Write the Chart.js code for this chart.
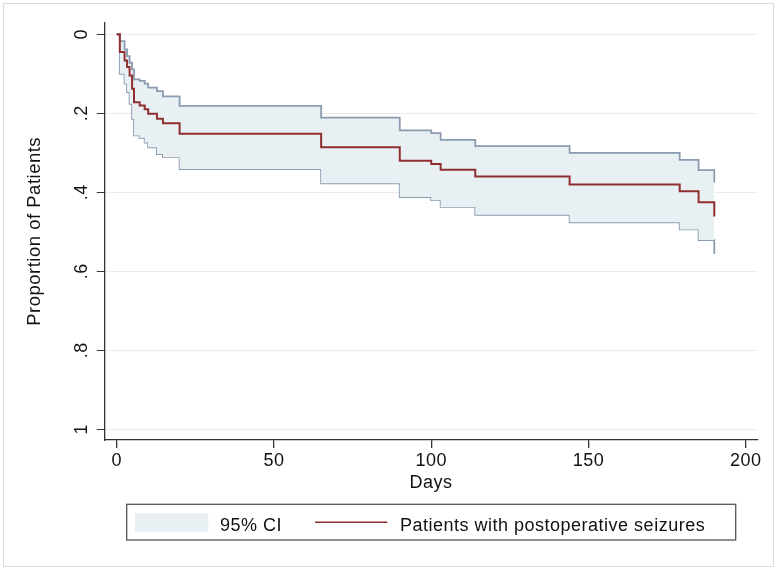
<!DOCTYPE html>
<html>
<head>
<meta charset="utf-8">
<title>Proportion of Patients</title>
<script src="https://cdn.jsdelivr.net/npm/chart.js@4.4.1/dist/chart.umd.min.js"></script>
<style>
  html, body { margin: 0; padding: 0; background: #fff; }
  #wrap { width: 780px; height: 570px; position: relative; }
</style>
</head>
<body>
<div id="wrap"><canvas id="km-chart"></canvas></div>
<script>
// Kaplan-Meier style curve, y axis reversed (0 at top)

const days       = [0, 1, 2.5, 3.3, 4.1, 4.9, 5.5, 7.3, 8.9, 10, 12.8, 14.7, 20, 65, 90, 100, 103, 114, 144, 179, 185, 190];
const proportion = [0, 0.045, 0.066, 0.083, 0.104, 0.138, 0.172, 0.180, 0.190, 0.201, 0.214, 0.225, 0.252, 0.286, 0.320, 0.328, 0.343, 0.360, 0.380, 0.397, 0.425, 0.461];
const ciLow      = [0, 0.017, 0.038, 0.055, 0.072, 0.089, 0.114, 0.118, 0.125, 0.135, 0.144, 0.157, 0.181, 0.211, 0.243, 0.250, 0.267, 0.283, 0.300, 0.318, 0.344, 0.375];
const ciHigh     = [0, 0.100, 0.125, 0.146, 0.176, 0.214, 0.256, 0.262, 0.274, 0.286, 0.303, 0.311, 0.341, 0.377, 0.412, 0.420, 0.437, 0.457, 0.476, 0.494, 0.521, 0.556];

const xTicks      = [0, 50, 100, 150, 200];
const yTicks      = [0, 0.2, 0.4, 0.6, 0.8, 1];
const yTickLabels = ["0", ".2", ".4", ".6", ".8", "1"];

const curveLabel = "Patients with postoperative seizures";
const ciLabel    = "95% CI";

const RED  = "#8f2f2f";
const CI   = "#8b9cb1";
const FILL = "#e9f0f3";
const INK  = "#111";
const FONT = "'Liberation Sans', Arial, Helvetica, sans-serif";

function pts(ys) {
  return days.map((d, i) => ({ x: d, y: ys[i] }));
}

// Stata text runs a bit wider than Arial
const spacing = {
  id: "spacing",
  beforeLayout(chart) { chart.ctx.letterSpacing = "0.5px"; },
  beforeDraw(chart) {
    const ctx = chart.ctx;
    ctx.letterSpacing = "0.5px";
    ctx.save();
    ctx.strokeStyle = "#dcdcdc";
    ctx.lineWidth = 1;
    ctx.strokeRect(3.5, 3.5, 770, 563);
    ctx.restore();
  }
};

// rotated y tick labels
const yLabels = {
  id: "yLabels",
  afterDraw(chart) {
    const ctx = chart.ctx;
    const y = chart.scales.y;
    ctx.save();
    ctx.font = "18px " + FONT;
    ctx.fillStyle = INK;
    ctx.textAlign = "center";
    ctx.textBaseline = "middle";
    yTicks.forEach((v, i) => {
      const py = y.getPixelForValue(v);
      ctx.save();
      ctx.translate(82, py);
      ctx.rotate(-Math.PI / 2);
      ctx.fillText(yTickLabels[i], 0, 0);
      ctx.restore();
    });
    ctx.restore();
  }
};

// boxed legend under the plot
const boxLegend = {
  id: "boxLegend",
  afterDraw(chart) {
    const ctx = chart.ctx;
    const ds = chart.data.datasets;
    ctx.save();
    ctx.strokeStyle = "#555";
    ctx.lineWidth = 1.3;
    ctx.strokeRect(126.7, 504.3, 609, 35.7);

    ctx.fillStyle = ds[1].backgroundColor;
    ctx.fillRect(135, 513.3, 73.3, 18.4);

    ctx.strokeStyle = ds[0].borderColor;
    ctx.lineWidth = 1.6;
    ctx.beginPath();
    ctx.moveTo(315, 522.3);
    ctx.lineTo(387.3, 522.3);
    ctx.stroke();

    ctx.font = "18px " + FONT;
    ctx.fillStyle = INK;
    ctx.textBaseline = "alphabetic";
    ctx.fillText(ds[1].label, 220, 531);
    ctx.fillText(ds[0].label, 400, 531);
    ctx.restore();
  }
};

new Chart(document.getElementById("km-chart"), {
  type: "line",
  data: {
    datasets: [
      {
        label: curveLabel,
        data: pts(proportion),
        borderColor: RED,
        borderWidth: 2,
        stepped: "before",
        pointRadius: 0,
        fill: false
      },
      {
        label: ciLabel,
        data: pts(ciLow),
        borderColor: CI,
        borderWidth: 1.8,
        backgroundColor: FILL,
        stepped: "before",
        pointRadius: 0,
        fill: "+1"
      },
      {
        label: ciLabel + " (upper)",
        data: pts(ciHigh),
        borderColor: CI,
        borderWidth: 1.8,
        stepped: "before",
        pointRadius: 0,
        fill: false
      }
    ]
  },
  options: {
    responsive: true,
    maintainAspectRatio: false,
    animation: false,
    devicePixelRatio: 1,
    font: { family: FONT },
    layout: { padding: { left: 0, top: 22.7, right: 22.3, bottom: 70 } },
    plugins: {
      legend: { display: false },
      tooltip: { enabled: false }
    },
    scales: {
      x: {
        type: "linear",
        min: -3.94,
        max: 203.8,
        afterBuildTicks: s => { s.ticks = xTicks.map(v => ({ value: v })); },
        afterFit: s => { s.height = 60; },
        grid: { drawOnChartArea: false, color: "#333", tickLength: 8, lineWidth: 1.3 },
        border: { color: "#333", width: 1.3 },
        ticks: { color: INK, font: { size: 18, family: FONT }, padding: 2, maxRotation: 0 },
        title: {
          display: true, text: "Days", color: INK,
          font: { size: 18, family: FONT },
          padding: { top: 0, bottom: 6 }
        }
      },
      y: {
        type: "linear",
        reverse: true,
        min: -0.0294,
        max: 1.027,
        afterBuildTicks: s => { s.ticks = yTicks.map(v => ({ value: v })); },
        afterFit: s => { s.width = 104.3; },
        grid: { color: "#e8ecec", lineWidth: 1, tickColor: "#333", tickLength: 7.5 },
        border: { color: "#333", width: 1.3 },
        ticks: { display: false },
        title: {
          display: true, text: "Proportion of Patients", color: INK,
          font: { size: 18.5, family: FONT },
          padding: { top: 24, bottom: 0 }
        }
      }
    }
  },
  plugins: [spacing, yLabels, boxLegend]
});
</script>
</body>
</html>
